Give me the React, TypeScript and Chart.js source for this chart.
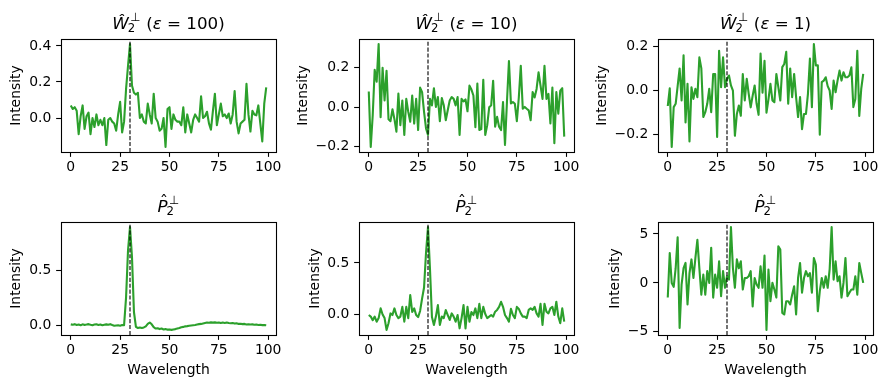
import React, { useEffect, useRef } from 'react';
import { Chart, registerables } from 'chart.js';

Chart.register(...registerables);

// ---------------- data ----------------
const W100 = [
  0.07, 0.05, 0.06, 0.04, -0.09, 0.01, 0.07, -0.06, 0.01, 0.03,
  -0.09, 0.0, -0.05, 0.02, -0.04, -0.01, -0.04, 0.0, -0.15, -0.01,
  0.0, -0.02, -0.03, -0.07, 0.02, 0.09, -0.08, -0.02, 0.16, 0.29,
  0.41, 0.18, 0.14, 0.13, 0.14, 0.0, 0.02, -0.02, -0.03, 0.08,
  0.02, -0.03, 0.135, 0.0, -0.02, -0.07, -0.06, 0.0, -0.16, 0.05,
  0.06, -0.06, 0.02, -0.01, -0.02, -0.02, -0.04, 0.06, -0.08, 0.02,
  -0.03, -0.08, -0.01, 0.02, 0.0, -0.02, 0.12, 0.0, 0.01, 0.035,
  -0.03, -0.065, 0.04, 0.135, -0.04, 0.02, 0.08, 0.01, 0.02, 0.0,
  0.025, -0.03, 0.02, 0.15, -0.02, -0.085, -0.03, -0.02, -0.01, 0.19,
  0.02, -0.075, 0.04, 0.02, 0.015, 0.07, -0.03, -0.13, 0.08, 0.17,
];

const W10 = [
  0.08, -0.2, -0.04, 0.19, 0.13, 0.32, -0.05, 0.2, 0.035, 0.185,
  -0.06, -0.07, -0.01, -0.06, -0.123, 0.07, -0.09, 0.035, -0.14, 0.043,
  -0.023, -0.073, 0.06, -0.082, 0.043, -0.115, 0.1, 0.077, -0.023, -0.107,
  -0.14, 0.043, 0.01, 0.097, 0.002, 0.052, -0.07, 0.047, 0.01, -0.065,
  -0.015, 0.035, 0.052, 0.043, 0.01, 0.052, -0.14, 0.043, 0.03, 0.04,
  -0.02, 0.11, 0.09, 0.06, -0.1, 0.12, -0.115, -0.11, 0.14, -0.14,
  -0.09, 0.0, 0.01, 0.135, -0.098, -0.048, -0.098, -0.115, 0.027, -0.19,
  0.03, 0.235, 0.02, 0.027, 0.018, -0.07, 0.05, 0.21, -0.007, 0.002,
  -0.007, -0.015, -0.065, 0.077, 0.05, 0.093, 0.177, 0.11, 0.043, 0.21,
  0.043, 0.068, -0.082, 0.1, -0.182, 0.077, -0.032, 0.085, 0.097, -0.148,
];

const W1 = [
  -0.07, 0.01, -0.255, -0.075, -0.06, 0.02, 0.1, -0.045, 0.16, -0.145,
  0.03, -0.23, 0.015, -0.038, 0.008, -0.03, 0.15, 0.1, -0.12, -0.098,
  -0.06, 0.008, -0.098, 0.075, 0.075, -0.21, 0.18, 0.015, 0.15, 0.015,
  0.053, 0.068, 0.023, 0.0, -0.205, -0.106, -0.068, -0.114, 0.075, -0.045,
  0.053, -0.015, -0.076, -0.023, 0.023, -0.06, -0.11, 0.167, -0.01, 0.135,
  -0.1, -0.04, 0.03, -0.045, -0.053, 0.075, 0.015, -0.045, 0.106, 0.12,
  0.175, -0.06, 0.1, -0.03, 0.075, -0.03, -0.12, -0.03, -0.175, -0.106,
  -0.106, -0.015, 0.145, -0.075, 0.21, 0.114, 0.114, -0.2, 0.038, 0.045,
  0.06, 0.02, 0.0, -0.083, 0.045, -0.008, 0.045, 0.09, 0.045, 0.083,
  0.06, 0.06, 0.068, 0.105, -0.075, -0.038, 0.18, -0.115, 0.008, 0.075,
];

const P100 = [
  0.008, 0.004, 0.01, 0.002, 0.006, 0.0, 0.008, 0.003, 0.006, 0.01,
  0.004, 0.0, 0.006, 0.008, 0.002, 0.006, 0.0, 0.004, 0.008, 0.004,
  0.01, 0.002, -0.004, -0.002, 0.0, -0.004, 0.002, 0.0, 0.25, 0.68,
  0.89, 0.62, 0.12, -0.015, -0.025, -0.02, -0.025, -0.02, -0.01, 0.012,
  0.025, 0.008, -0.018, -0.03, -0.028, -0.035, -0.03, -0.038, -0.035, -0.04,
  -0.038, -0.042, -0.038, -0.035, -0.03, -0.025, -0.018, -0.015, -0.01, -0.008,
  -0.005, -0.002, 0.0, 0.002, 0.006, 0.01, 0.012, 0.016, 0.02, 0.024,
  0.022, 0.026, 0.024, 0.026, 0.022, 0.025, 0.02, 0.024, 0.021, 0.025,
  0.02, 0.018, 0.02, 0.015, 0.017, 0.012, 0.014, 0.01, 0.012, 0.006,
  0.009, 0.006, 0.008, 0.005, 0.006, 0.002, 0.004, 0.001, 0.002, 0.0,
];

const P10 = [
  -0.01, -0.025, -0.06, -0.025, -0.075, -0.04, 0.055, -0.005, -0.04, -0.155,
  -0.09, 0.006, -0.01, 0.055, -0.01, -0.04, -0.025, 0.07, -0.075, 0.07,
  -0.04, 0.185, 0.02, 0.055, -0.01, -0.03, 0.03, 0.15, 0.26, 0.6,
  0.85, 0.44, -0.03, -0.107, -0.025, 0.087, -0.107, -0.025, -0.04, 0.039,
  -0.01, -0.058, 0.006, -0.025, -0.075, -0.01, -0.14, -0.04, 0.087, -0.14,
  0.07, -0.075, 0.02, -0.01, 0.055, -0.04, 0.1, -0.04, 0.07, 0.0,
  -0.04, -0.025, -0.01, -0.025, 0.023, 0.04, 0.07, 0.12, 0.07, -0.01,
  -0.04, -0.075, 0.05, -0.01, -0.04, 0.07, 0.05, 0.006, -0.025, -0.025,
  -0.04, 0.04, 0.055, 0.04, 0.07, 0.006, -0.025, 0.1, -0.107, 0.1,
  0.023, 0.006, 0.055, 0.07, -0.01, 0.12, -0.025, -0.09, 0.055, -0.075,
];

const P1 = [
  -1.5, 3.06, 0.0, -0.4, 1.5, 4.66, -4.6, -0.17, 1.5, 2.04,
  -2.2, 1.0, 2.4, 0.5, 2.55, 4.4, 1.5, -1.2, 0.85, -1.2,
  1.2, 0.0, 3.6, -1.5, 0.85, -0.5, 2.2, -1.36, 1.2, -0.5,
  0.68, 0.34, 5.7, 1.5, -0.5, 2.4, 1.5, 2.2, -0.68, 0.5,
  0.5, 0.68, 1.2, -2.4, 0.5, -0.17, -0.5, 1.7, -0.5, 2.8,
  -4.8, 1.36, -1.87, 0.0, -0.68, -1.5, 3.74, 3.4, -3.06, -3.23,
  -1.87, -1.87, -2.2, -1.2, -0.34, -3.23, 0.5, 2.04, -1.0, 0.5,
  1.2, 0.68, 1.0, -1.0, 2.55, 1.87, -2.9, -0.85, 0.5, -0.5,
  0.68, -0.5, 1.4, 5.7, 0.34, 2.2, 0.17, 0.68, -1.5, 0.0,
  2.55, -1.36, -1.0, -0.68, -0.68, 0.68, -1.2, 2.04, 1.0, 0.0,
];

const wavelength = W100.map((_, i) => i);
const MARKER_X = 30;

const xTicks = [0, 25, 50, 75, 100];
const xTickLabels = ['0', '25', '50', '75', '100'];

const yTicksW100 = [0, 0.2, 0.4];
const yLabelsW100 = ['0.0', '0.2', '0.4'];
const yTicksW = [-0.2, 0, 0.2];
const yLabelsW = ['\u22120.2', '0.0', '0.2'];
const yTicksP = [0, 0.5];
const yLabelsP = ['0.0', '0.5'];
const yTicksP1 = [-5, 0, 5];
const yLabelsP1 = ['\u22125', '0', '5'];

// ---------------- layout / style ----------------
const FONT = 'DejaVu Sans';
const LABEL_SIZE = 13.9;
const TITLE_SIZE = 16.7;
const LH = LABEL_SIZE * 1.2;
const TICK_LEN = 4.86;
const X_TICK_PAD = 2.4;
const Y_TICK_PAD = 4.86;
const TITLE_GAP = 10.5;
const XLABEL_Y = 370;
const GREEN = '#2ca02c';

type Panel = {
  values: number[];
  yTicks: number[];
  yLabels: string[];
  letter: 'W' | 'P';
  eps: string | null;
  cell: [number, number, number, number];
  box: [number, number, number, number];
  ylabelX: number;
  xlabel: boolean;
};

const PANELS: Panel[] = [
  { values: W100, yTicks: yTicksW100, yLabels: yLabelsW100, letter: 'W', eps: '100', cell: [0, 0, 290, 190], box: [61, 39, 276, 152], ylabelX: 16.5, xlabel: false },
  { values: W10, yTicks: yTicksW, yLabels: yLabelsW, letter: 'W', eps: '10', cell: [290, 0, 300, 190], box: [359, 39, 574, 152], ylabelX: 303, xlabel: false },
  { values: W1, yTicks: yTicksW, yLabels: yLabelsW, letter: 'W', eps: '1', cell: [590, 0, 298, 190], box: [658, 39, 873, 152], ylabelX: 602, xlabel: false },
  { values: P100, yTicks: yTicksP, yLabels: yLabelsP, letter: 'P', eps: null, cell: [0, 190, 290, 199], box: [61, 222, 276, 335], ylabelX: 16.5, xlabel: true },
  { values: P10, yTicks: yTicksP, yLabels: yLabelsP, letter: 'P', eps: null, cell: [290, 190, 300, 199], box: [359, 222, 574, 335], ylabelX: 315, xlabel: true },
  { values: P1, yTicks: yTicksP1, yLabels: yLabelsP1, letter: 'P', eps: null, cell: [590, 190, 298, 199], box: [658, 222, 873, 335], ylabelX: 615, xlabel: true },
];

const framePlugin = {
  id: 'mplFrame',
  afterDraw(chart: any) {
    const { ctx, chartArea } = chart;
    const l = Math.round(chartArea.left) + 0.5;
    const t = Math.round(chartArea.top) + 0.5;
    const r = Math.round(chartArea.right) + 0.5;
    const b = Math.round(chartArea.bottom) + 0.5;
    ctx.save();
    ctx.strokeStyle = '#000';
    ctx.lineWidth = 1.1;
    ctx.strokeRect(l, t, r - l, b - t);
    ctx.restore();
  },
};

function makeTitlePlugin(p: Panel) {
  return {
    id: 'mplTitle',
    afterDraw(chart: any) {
      const { ctx, chartArea } = chart;
      const small = TITLE_SIZE * 0.7;
      const fIt = `italic ${TITLE_SIZE}px "${FONT}"`;
      const fRm = `${TITLE_SIZE}px "${FONT}"`;
      const fSm = `${small}px "${FONT}"`;
      const cx = (chartArea.left + chartArea.right) / 2;
      const base = chartArea.top - TITLE_GAP;
      ctx.save();
      ctx.fillStyle = '#000';
      ctx.textBaseline = 'alphabetic';
      ctx.textAlign = 'left';
      const letter = p.letter === 'W' ? '\u0174' : 'P';
      ctx.font = fIt;
      const wL = ctx.measureText(letter).width;
      ctx.font = fSm;
      const wSub = ctx.measureText('2').width;
      const wSup = ctx.measureText('\u22A5').width;
      const stackW = Math.max(wSub - 1, wSup + 1.5) + 0.5;
      const tail: [string, string][] = p.eps
        ? [[' (', fRm], ['\u03B5', fIt], [' = ', fRm], [p.eps + ')', fRm]]
        : [];
      let tailW = 0;
      for (const [s, f] of tail) {
        ctx.font = f;
        tailW += ctx.measureText(s).width;
      }
      let x = cx - (wL + stackW + tailW) / 2;
      ctx.font = fIt;
      ctx.fillText(letter, x, base);
      if (p.letter === 'P') {
        ctx.font = fRm;
        const hw = ctx.measureText('\u02C6').width;
        ctx.fillText('\u02C6', x + wL / 2 - hw / 2 + 1.5, base - 4.2);
      }
      x += wL;
      ctx.font = fSm;
      ctx.fillText('\u22A5', x + 1.5, base - 7.5);
      ctx.fillText('2', x - 1, base + 3.5);
      x += stackW;
      for (const [s, f] of tail) {
        ctx.font = f;
        ctx.fillText(s, x, base);
        x += ctx.measureText(s).width;
      }
      ctx.restore();
    },
  };
}

export default function App() {
  const refs = useRef<(HTMLCanvasElement | null)[]>([]);

  useEffect(() => {
    document.body.style.margin = '0';
    const charts = PANELS.map((p, k) => {
      const canvas = refs.current[k] as HTMLCanvasElement;
      const [L, T, R, B] = p.box;
      const [cx, cy, cw, ch] = p.cell;
      const yAxisW = L - p.ylabelX + LH / 2;
      const xAxisH = p.xlabel ? XLABEL_Y - B + LH / 2 : 30;
      const lo = Math.min(...p.values);
      const hi = Math.max(...p.values);
      const m = (hi - lo) * 0.05;
      const yMin = lo - m;
      const yMax = hi + m;
      const tickFont = { family: FONT, size: LABEL_SIZE };
      const grid = {
        display: true,
        drawOnChartArea: false,
        drawTicks: true,
        tickLength: TICK_LEN,
        tickWidth: 1.1,
        tickColor: '#000',
        color: '#000',
      };
      return new Chart(canvas, {
        type: 'line',
        data: {
          datasets: [
            {
              data: [
                { x: MARKER_X, y: yMin },
                { x: MARKER_X, y: yMax },
              ],
              borderColor: '#000',
              borderWidth: 1.1,
              borderDash: [4.1, 1.8],
              pointRadius: 0,
              order: 0,
            },
            {
              data: wavelength.map((x, i) => ({ x, y: p.values[i] })),
              borderColor: GREEN,
              borderWidth: 2.1,
              borderJoinStyle: 'round',
              pointRadius: 0,
              tension: 0,
              order: 1,
            },
          ],
        },
        options: {
          animation: false,
          responsive: false,
          devicePixelRatio: 1,
          events: [],
          parsing: false,
          layout: {
            padding: {
              left: L - cx - yAxisW,
              top: T - cy,
              right: cx + cw - R,
              bottom: cy + ch - B - xAxisH,
            },
          },
          plugins: {
            legend: { display: false },
            title: { display: false },
            tooltip: { enabled: false },
          },
          scales: {
            x: {
              type: 'linear',
              min: -4.95,
              max: 103.95,
              afterBuildTicks: (s: any) => {
                s.ticks = xTicks.map((v) => ({ value: v }));
              },
              afterFit: (s: any) => {
                s.height = xAxisH;
              },
              grid,
              border: { display: false },
              ticks: {
                autoSkip: false,
                maxRotation: 0,
                padding: X_TICK_PAD,
                color: '#000',
                font: tickFont,
                callback: (_v: any, i: number) => xTickLabels[i],
              },
              title: {
                display: p.xlabel,
                text: 'Wavelength',
                color: '#000',
                font: tickFont,
                padding: 0,
              },
            },
            y: {
              type: 'linear',
              min: yMin,
              max: yMax,
              afterBuildTicks: (s: any) => {
                s.ticks = p.yTicks.map((v) => ({ value: v }));
              },
              afterFit: (s: any) => {
                s.width = yAxisW;
              },
              grid,
              border: { display: false },
              ticks: {
                autoSkip: false,
                padding: Y_TICK_PAD,
                color: '#000',
                font: tickFont,
                callback: (_v: any, i: number) => p.yLabels[i],
              },
              title: {
                display: true,
                text: 'Intensity',
                color: '#000',
                font: tickFont,
                padding: 0,
              },
            },
          },
        } as any,
        plugins: [framePlugin, makeTitlePlugin(p)],
      });
    });
    return () => charts.forEach((c) => c.destroy());
  }, []);

  return (
    <div style={{ position: 'relative', width: 888, height: 389, overflow: 'hidden', background: '#fff' }}>
      {PANELS.map((p, k) => (
        <canvas
          key={k}
          ref={(el) => {
            refs.current[k] = el;
          }}
          width={p.cell[2]}
          height={p.cell[3]}
          style={{ position: 'absolute', left: p.cell[0], top: p.cell[1], width: p.cell[2], height: p.cell[3] }}
        />
      ))}
    </div>
  );
}
